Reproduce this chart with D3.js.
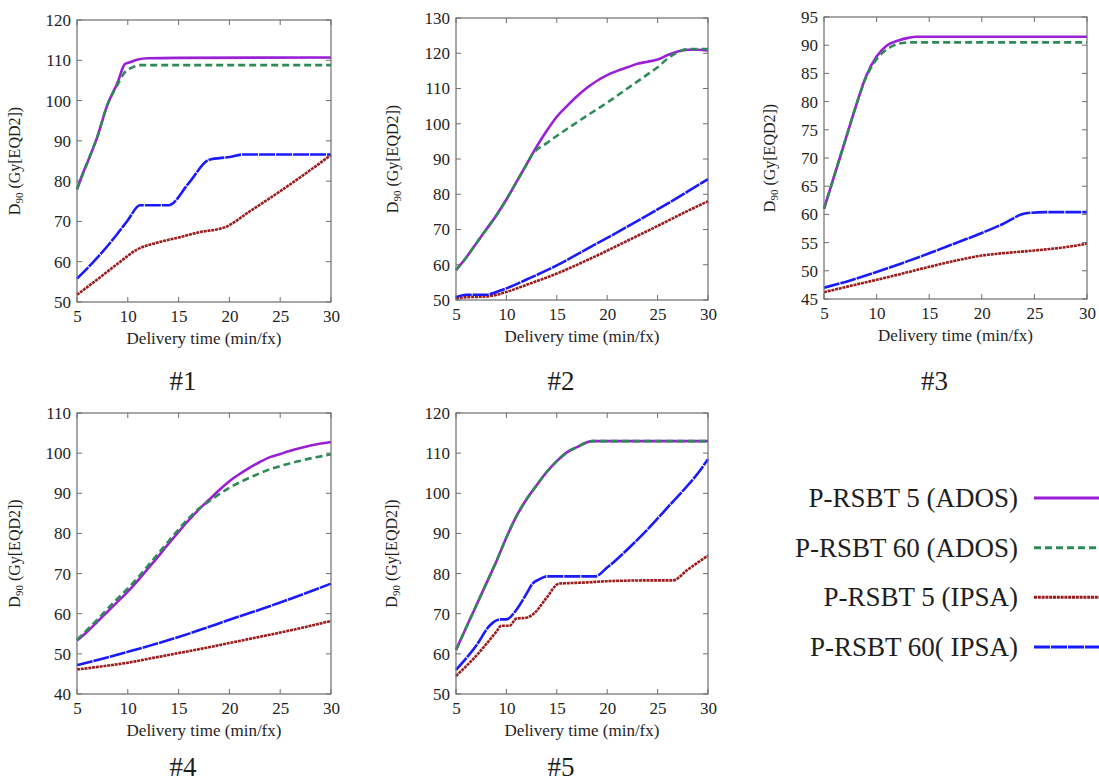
<!DOCTYPE html>
<html><head><meta charset="utf-8">
<script src="https://cdn.jsdelivr.net/npm/d3@7"></script>
<style>
html,body{margin:0;padding:0;background:#fff;}
svg, svg text{font-family:"Liberation Serif","Times New Roman",Times,Tinos,"DejaVu Serif","Noto Serif",serif !important;}
</style></head>
<body>
<svg id="c" width="1099" height="782"></svg>
<script>
// ---------- data ----------
const xTicks = [5,10,15,20,25,30];
const seriesNames = ["P-RSBT 5 (ADOS)","P-RSBT 60 (ADOS)","P-RSBT 5 (IPSA)","P-RSBT 60( IPSA)"];
const panelTitles = ["#1","#2","#3","#4","#5"];
const yTicks1 = [50,60,70,80,90,100,110,120];
const yTicks2 = [50,60,70,80,90,100,110,120,130];
const yTicks3 = [45,50,55,60,65,70,75,80,85,90,95];
const yTicks4 = [40,50,60,70,80,90,100,110];
const yTicks5 = [50,60,70,80,90,100,110,120];

// Panel #1
const p1Ados5  = [[5,78],[5.5,81.5],[6,84.5],[7,91],[8,99],[9,104.5],[9.7,109],[10.2,109.5],[11,110.2],[12,110.5],[15,110.6],[30,110.7]];
const p1Ados60 = [[5,78],[6,84.5],[7,91],[8,99],[9,104],[9.7,107],[10.5,108.3],[11.2,108.8],[30,108.8]];
const p1Ipsa5  = [[5,51.8],[7,55.6],[9,59.5],[10.9,63],[13,64.8],[15,66],[17,67.3],[19.6,68.6],[22,72.5],[25,77.5],[28,82.8],[30,86.5]];
const p1Ipsa60 = [[5,55.8],[7,61],[9,67],[10,70.3],[11.2,74],[14,74],[16,79.5],[18,85.3],[20,86],[21.3,86.6],[30,86.6]];
// Panel #2
const p2Ados5  = [[5,58.5],[6,62],[7,66],[8,70],[9,74],[10,78.5],[11,83.5],[12,88.5],[13,93.5],[14,98],[15,102],[16,105],[17,107.8],[18,110.2],[19,112.2],[20,113.8],[21,115],[22,116],[23,117],[24,117.6],[25,118.2],[26,119.5],[27,120.5],[28,121],[29,121],[30,120.8]];
const p2Ados60 = [[5,58.5],[6,62],[7,66],[8,70],[9,74],[10,78.5],[11,83.5],[12,88.5],[12.5,91],[14,94.5],[16,98.5],[18,102.3],[20,106],[22,110],[24,114],[25,116],[26,118.5],[27,120.3],[28,121.2],[30,121.2]];
const p2Ipsa5  = [[5,50.5],[6,50.8],[8,51],[10,52.3],[12,54.3],[15,57.5],[18,61.3],[20,64],[22,66.8],[25,71],[28,75.3],[30,78]];
const p2Ipsa60 = [[5,50.8],[6,51.5],[8,51.5],[9,52.3],[10,53.3],[12,55.8],[15,59.8],[18,64.5],[20,67.6],[22,70.8],[25,75.7],[28,80.8],[30,84.3]];
// Panel #3
const p3Ados5  = [[5,61],[6,67],[7,73],[8,79],[9,84.5],[10,88],[11,90],[12,90.8],[13,91.3],[13.8,91.5],[30,91.5]];
const p3Ados60 = [[5,61],[6,67],[7,73],[8,79],[9,84.3],[10,87.5],[11,89.3],[12,90.2],[13,90.5],[30,90.5]];
const p3Ipsa5  = [[5,46.2],[7,47.1],[10,48.4],[12,49.3],[15,50.7],[18,52],[20,52.7],[22.5,53.2],[25,53.6],[28,54.2],[30,54.8]];
const p3Ipsa60 = [[5,47],[7.5,48.3],[10,49.8],[12.5,51.4],[15,53.1],[17.5,54.9],[20,56.7],[22,58.3],[24.2,60.2],[26,60.4],[30,60.4]];
// Panel #4
const p4Ados5  = [[5,53.3],[6,55.5],[7,58],[8,60.5],[9,63],[10,65.5],[11,68.3],[12,71.3],[13,74.3],[14,77.4],[15,80.4],[16,83.3],[17,86],[18,88.4],[19,90.8],[20,93],[21,94.8],[22,96.4],[23,97.8],[24,99],[25,99.8],[26,100.6],[27,101.3],[28,101.9],[29,102.4],[30,102.8]];
const p4Ados60 = [[5,53.5],[6,56],[7,58.5],[8,61.2],[9,63.8],[10,66.3],[11,69],[12,72],[13,75],[14,78],[15,81],[16,83.8],[17,86.2],[18,88],[19,89.8],[20,91.4],[21,92.7],[22,93.9],[23,95],[24,96],[25,96.8],[26,97.5],[27,98.1],[28,98.7],[29,99.2],[30,99.7]];
const p4Ipsa5  = [[5,46.1],[7.5,46.9],[10,47.8],[12.5,49],[15,50.2],[17.5,51.4],[20,52.7],[22.5,54],[25,55.3],[27.5,56.7],[30,58.2]];
const p4Ipsa60 = [[5,47.2],[7.5,48.8],[10,50.5],[12.5,52.3],[15,54.2],[17.5,56.3],[20,58.5],[22.5,60.6],[25,62.8],[27.5,65.1],[30,67.5]];
// Panel #5
const p5Ados5  = [[5,61],[6,66.5],[7,72],[8,77.5],[9,83],[10,89],[11,94.3],[12,98.5],[13,102],[14,105.3],[15,108],[16,110.2],[17,111.5],[18,112.7],[18.5,113],[30,113]];
const p5Ados60 = [[5,61],[6,66.5],[7,72],[8,77.5],[9,83],[10,89],[11,94.3],[12,98.5],[13,102],[14,105.3],[15,108],[16,110.2],[17,111.5],[18,112.7],[18.5,113],[30,113]];
const p5Ipsa5  = [[5,54.5],[7,59.5],[9,65.5],[9.5,67],[10.3,67],[11,68.8],[12,69],[12.7,70],[14,74],[15.2,77.5],[16,77.6],[18,77.8],[20,78.1],[24,78.3],[26.5,78.3],[28,81],[30,84.5]];
const p5Ipsa60 = [[5,56],[7,62],[8.4,67.2],[9.4,68.6],[10,68.6],[11,71],[12,75],[12.6,77.5],[13.3,78.6],[14,79.3],[18.8,79.3],[20,81.5],[22,86],[24,91],[26,96.5],[28,102],[29,105],[30,108.5]];

// ---------- styles / layout ----------
const styles = [
  {color:"#9a1fd6", dash:null, width:2.6},
  {color:"#2e8b57", dash:"7,4", width:2.6},
  {color:"#9b1c1c", dash:"3,0.8", width:2.6},
  {color:"#1a1aff", dash:"16,1", width:2.6}
];
const panels = [
  {left:77, top:20, w:254, h:282, yDomain:[50,120], yTicks:yTicks1, series:[p1Ados5,p1Ados60,p1Ipsa5,p1Ipsa60], ylabDx:57, titleDy:88},
  {left:456, top:18, w:252, h:282, yDomain:[50,130], yTicks:yTicks2, series:[p2Ados5,p2Ados60,p2Ipsa5,p2Ipsa60], ylabDx:58, titleDy:90},
  {left:824, top:17, w:263, h:282, yDomain:[45,95], yTicks:yTicks3, series:[p3Ados5,p3Ados60,p3Ipsa5,p3Ipsa60], ylabDx:49, titleDy:91},
  {left:77, top:413, w:254, h:281, yDomain:[40,110], yTicks:yTicks4, series:[p4Ados5,p4Ados60,p4Ipsa5,p4Ipsa60], ylabDx:57, titleDy:82},
  {left:456, top:413, w:252, h:281, yDomain:[50,120], yTicks:yTicks5, series:[p5Ados5,p5Ados60,p5Ipsa5,p5Ipsa60], ylabDx:59, titleDy:82}
];

const svg = d3.select("#c");
const textColor = "#1e1e1e";
const frameColor = "#6e6e6e";
const tickLen = 5;
const serif = "'Liberation Serif','Times New Roman',Times,Tinos,'DejaVu Serif','Noto Serif',serif";

panels.forEach((p, i) => {
  const g = svg.append("g").attr("transform", `translate(${p.left},${p.top})`);
  const x = d3.scaleLinear().domain([5,30]).range([0,p.w]);
  const y = d3.scaleLinear().domain(p.yDomain).range([p.h,0]);

  const xb = d3.axisBottom(x).tickValues(xTicks).tickSize(0).tickPadding(8).tickFormat(d3.format("d"));
  const xa = g.append("g").attr("transform",`translate(0,${p.h})`).call(xb).attr("font-family",serif);
  xa.select(".domain").remove();
  xa.selectAll("text").attr("font-size",17).attr("fill",textColor);

  const yl = d3.axisLeft(y).tickValues(p.yTicks).tickSize(0).tickPadding(6).tickFormat(d3.format("d"));
  const ya = g.append("g").call(yl).attr("font-family",serif);
  ya.select(".domain").remove();
  ya.selectAll("text").attr("font-size",17).attr("fill",textColor);

  // inward mirrored ticks
  const tk = g.append("g").attr("stroke",frameColor).attr("stroke-width",1);
  xTicks.forEach(t => {
    tk.append("line").attr("x1",x(t)).attr("x2",x(t)).attr("y1",p.h).attr("y2",p.h-tickLen);
    tk.append("line").attr("x1",x(t)).attr("x2",x(t)).attr("y1",0).attr("y2",tickLen);
  });
  p.yTicks.forEach(t => {
    tk.append("line").attr("x1",0).attr("x2",tickLen).attr("y1",y(t)).attr("y2",y(t));
    tk.append("line").attr("x1",p.w).attr("x2",p.w-tickLen).attr("y1",y(t)).attr("y2",y(t));
  });

  const line = d3.line().x(d=>x(d[0])).y(d=>y(d[1])).curve(d3.curveMonotoneX);
  p.series.forEach((s, k) => {
    const st = styles[k];
    g.append("path").datum(s).attr("d",line).attr("fill","none")
      .attr("stroke",st.color).attr("stroke-width",st.width)
      .attr("stroke-dasharray",st.dash).attr("stroke-linejoin","round");
  });

  g.append("rect").attr("x",0).attr("y",0).attr("width",p.w).attr("height",p.h)
    .attr("fill","none").attr("stroke",frameColor).attr("stroke-width",1.2);

  g.append("text").attr("x",p.w/2).attr("y",p.h+42).attr("text-anchor","middle")
    .attr("font-size",17).attr("fill",textColor).text("Delivery time (min/fx)");

  const yt = g.append("text").attr("transform",`translate(${-p.ylabDx},${p.h/2}) rotate(-90)`)
    .attr("text-anchor","middle").attr("font-size",16).attr("fill",textColor);
  yt.append("tspan").text("D");
  yt.append("tspan").attr("font-size",11).attr("dy",3).text("90");
  yt.append("tspan").attr("dy",-3).text(" (Gy[EQD2])");

  g.append("text").attr("x",p.w/2-21).attr("y",p.h+p.titleDy).attr("text-anchor","middle")
    .attr("font-size",27).attr("fill",textColor).text(panelTitles[i]);
});

// legend
const legY = d3.scalePoint().domain(seriesNames).range([498,647]);
const leg = svg.append("g");
seriesNames.forEach((n,k) => {
  const st = styles[k];
  leg.append("text").attr("x",1018).attr("y",legY(n)+9).attr("text-anchor","end")
    .attr("font-size",27).attr("fill",textColor).text(n);
  leg.append("line").attr("x1",1034).attr("x2",1110).attr("y1",legY(n)).attr("y2",legY(n))
    .attr("stroke",st.color).attr("stroke-width",3).attr("stroke-dasharray",st.dash);
});
</script>
</body></html>
